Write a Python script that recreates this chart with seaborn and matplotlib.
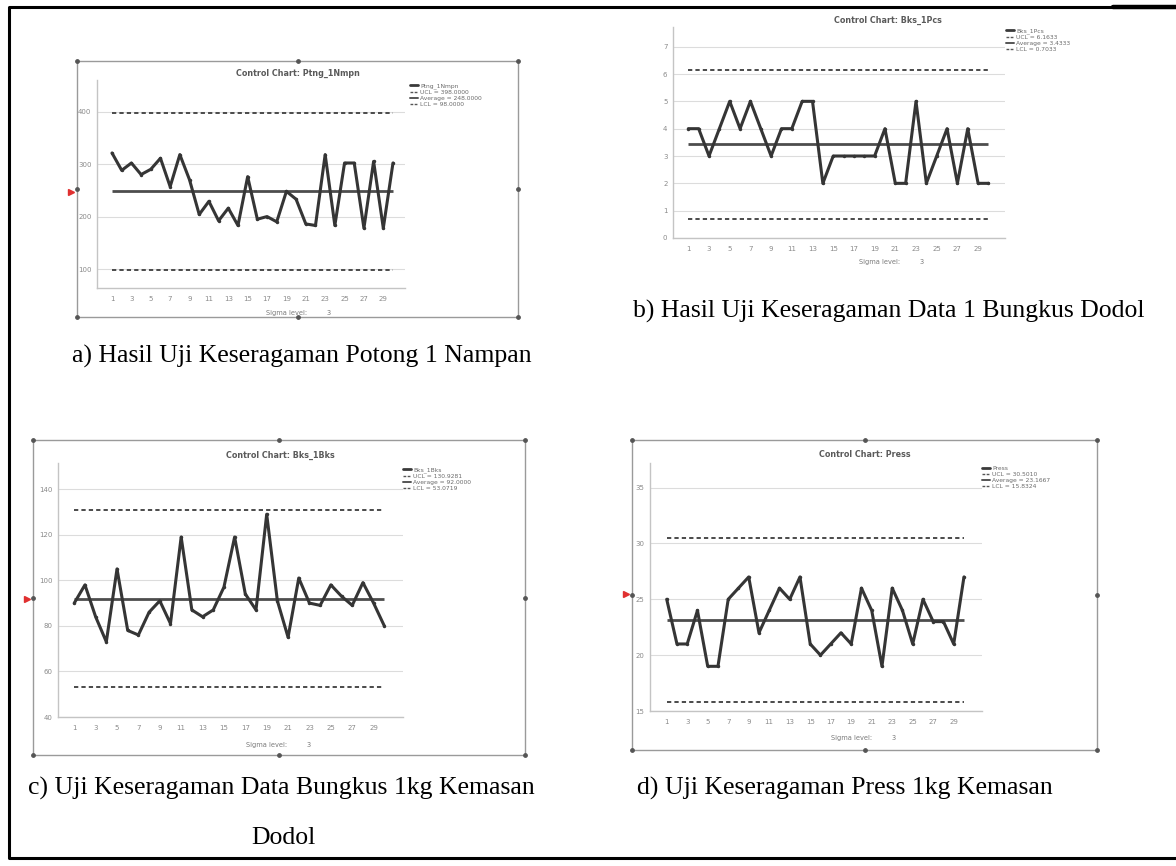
import matplotlib
matplotlib.use("Agg")
import matplotlib.pyplot as plt
from matplotlib.lines import Line2D
import seaborn as sns
import pandas as pd

# ---- data -------------------------------------------------------------
samples = list(range(1, 31))
xtick_labels = list(range(1, 30, 2))

ptng_1nmpn = [321, 288, 302, 280, 290, 311, 257, 318, 270, 204,
              229, 192, 216, 183, 276, 195, 200, 190, 248, 233,
              186, 183, 318, 183, 302, 302, 178, 305, 178, 302]
ptng_limits = [398.0000, 248.0000, 98.0000]      # UCL, Average, LCL
ptng_yticks = [100, 200, 300, 400]

bks_1pcs = [4, 4, 3, 4, 5, 4, 5, 4, 3, 4,
            4, 5, 5, 2, 3, 3, 3, 3, 3, 4,
            2, 2, 5, 2, 3, 4, 2, 4, 2, 2]
bks_1pcs_limits = [6.1633, 3.4333, 0.7033]
bks_1pcs_yticks = [0, 1, 2, 3, 4, 5, 6, 7]

bks_1bks = [90, 98, 84, 73, 105, 78, 76, 86, 91, 81,
            119, 87, 84, 87, 97, 119, 94, 87, 129, 91,
            75, 101, 90, 89, 98, 93, 89, 99, 90, 80]
bks_1bks_limits = [130.9281, 92.0000, 53.0719]
bks_1bks_yticks = [40, 60, 80, 100, 120, 140]

press = [25, 21, 21, 24, 19, 19, 25, 26, 27, 22,
         24, 26, 25, 27, 21, 20, 21, 22, 21, 26,
         24, 19, 26, 24, 21, 25, 23, 23, 21, 27]
press_limits = [30.5010, 23.1667, 15.8324]
press_yticks = [15, 20, 25, 30, 35]

titles = ["Control Chart: Ptng_1Nmpn", "Control Chart: Bks_1Pcs",
          "Control Chart: Bks_1Bks", "Control Chart: Press"]
series_names = ["Ptng_1Nmpn", "Bks_1Pcs", "Bks_1Bks", "Press"]
captions = ["a) Hasil Uji Keseragaman Potong 1 Nampan",
            "b) Hasil Uji Keseragaman Data 1 Bungkus Dodol",
            "c) Uji Keseragaman Data Bungkus 1kg Kemasan",
            "d) Uji Keseragaman Press 1kg Kemasan"]
caption_c_second_line = "Dodol"

# ---- figure -----------------------------------------------------------
sns.set_theme(style="white")
plt.rcParams["font.family"] = ["DejaVu Sans"]

W, H = 1176, 866
fig = plt.figure(figsize=(W / 100, H / 100), dpi=100)
fig.patch.set_facecolor("white")

# page overlay in pixel coordinates
page = fig.add_axes([0, 0, 1, 1], zorder=0)
page.set_xlim(0, W)
page.set_ylim(H, 0)
page.axis("off")

# document border (left, top, bottom)
page.plot([9, 9], [7, 858], color="black", lw=2.2, solid_capstyle="butt")
page.plot([9, W], [7, 7], color="black", lw=2.2)
page.plot([1113, W], [7, 7], color="black", lw=3.2)
page.plot([9, W], [858, 858], color="black", lw=2.2)


def image_frame(l, t, r, b, red_y):
    page.plot([l, r, r, l, l], [t, t, b, b, t], color="#9a9a9a", lw=1.0)
    mx, my = (l + r) / 2, (t + b) / 2
    hx = [l, mx, r, r, r, mx, l, l]
    hy = [t, t, t, my, b, b, b, my]
    page.scatter(hx, hy, s=6, color="#555555", zorder=3)
    page.plot([l - 6], [red_y], marker=">", ms=4, color="#e03030",
              ls="none")


image_frame(77, 61, 518, 317, 192)
image_frame(33, 440, 525, 755, 599)
image_frame(632, 440, 1097, 750, 594)


def px_axes(l, t, r, b):
    return fig.add_axes([l / W, 1 - b / H, (r - l) / W, (b - t) / H],
                        zorder=2)


def control_chart(rect, xlim, ylim, values, limits, yticks, title, name,
                  title_xy, legend_xy, sigma_xy):
    ax = px_axes(*rect)
    ax.set_facecolor("none")
    df = pd.DataFrame({"Sample": samples, "Value": values})
    ucl, avg, lcl = limits
    ax.hlines([ucl, lcl], samples[0], samples[-1], colors="#4a4a4a",
              lw=1.4, linestyles=(0, (2.2, 1.6)), zorder=3)
    ax.hlines(avg, samples[0], samples[-1], colors="#4d4d4d", lw=2.0,
              zorder=3)
    sns.lineplot(data=df, x="Sample", y="Value", ax=ax, color="#353535",
                 lw=2.2, marker="o", markersize=2.5, markeredgewidth=0,
                 zorder=4)
    ax.set_xlim(*xlim)
    ax.set_ylim(*ylim)
    ax.set_yticks(yticks)
    ax.set_yticklabels([str(v) for v in yticks])
    ax.set_xticks(xtick_labels)
    ax.set_xticklabels([str(v) for v in xtick_labels])
    ax.tick_params(axis="both", labelsize=5, colors="#8a8a8a", length=2,
                   width=0.6, pad=2)
    ax.tick_params(axis="x", pad=4)
    ax.grid(axis="y", color="#dcdcdc", lw=0.8)
    ax.set_axisbelow(True)
    for s in ("top", "right"):
        ax.spines[s].set_visible(False)
    for s in ("left", "bottom"):
        ax.spines[s].set_color("#c4c4c4")
        ax.spines[s].set_linewidth(1.0)
    ax.set_xlabel("")
    ax.set_ylabel("")

    fig.text(title_xy[0] / W, 1 - title_xy[1] / H, title, ha="center",
             va="center", fontsize=5.8, fontweight="bold", color="#5a5a5a")

    # legend entries
    handles = [
        Line2D([], [], color="#3a3a3a", lw=2.0),
        Line2D([], [], color="#555555", lw=1.0, ls=(0, (2, 1))),
        Line2D([], [], color="#555555", lw=1.4),
        Line2D([], [], color="#555555", lw=1.0, ls=(0, (2, 1))),
    ]
    labels = [name, f"UCL = {ucl:.4f}", f"Average = {avg:.4f}",
              f"LCL = {lcl:.4f}"]
    fig.legend(handles, labels, loc="upper left",
               bbox_to_anchor=(legend_xy[0] / W, 1 - legend_xy[1] / H),
               frameon=False, fontsize=4.3, handlelength=1.3,
               handletextpad=0.4, labelspacing=0.15, borderpad=0,
               borderaxespad=0, labelcolor="#6a6a6a")

    fig.text(sigma_xy[0] / W, 1 - sigma_xy[1] / H, "Sigma level:",
             ha="center", va="center", fontsize=4.8, color="#7a7a7a")
    fig.text((sigma_xy[0] + 42) / W, 1 - sigma_xy[1] / H, "3",
             ha="center", va="center", fontsize=4.8, color="#7a7a7a")
    return ax


control_chart((97, 80, 405, 288), (-0.55, 31.24), (64, 460),
              ptng_1nmpn, ptng_limits, ptng_yticks, titles[0],
              series_names[0], (298, 73), (410, 83), (287, 313))
control_chart((673, 27, 1005, 238), (-0.48, 31.6), (0, 7.72),
              bks_1pcs, bks_1pcs_limits, bks_1pcs_yticks, titles[1],
              series_names[1], (888, 20), (1006, 28), (880, 262))
control_chart((58, 463, 403, 717), (-0.52, 31.75), (40, 151.5),
              bks_1bks, bks_1bks_limits, bks_1bks_yticks, titles[2],
              series_names[2], (280, 455), (403, 467), (267, 745))
control_chart((650, 463, 982, 711), (-0.63, 31.76), (15, 37.2),
              press, press_limits, press_yticks, titles[3],
              series_names[3], (865, 454), (982, 466), (852, 738))

# captions below each chart
cap_font = dict(family=["Liberation Serif", "DejaVu Serif"], fontsize=18.5,
                color="black", ha="center", va="center")
fig.text(302 / W, 1 - 356 / H, captions[0], **cap_font)
fig.text(889 / W, 1 - 311 / H, captions[1], **cap_font)
fig.text(281 / W, 1 - 788 / H, captions[2], **cap_font)
fig.text(283 / W, 1 - 838 / H, caption_c_second_line, **cap_font)
fig.text(845 / W, 1 - 788 / H, captions[3], **cap_font)

fig.savefig("out.png", dpi=100, facecolor="white")
